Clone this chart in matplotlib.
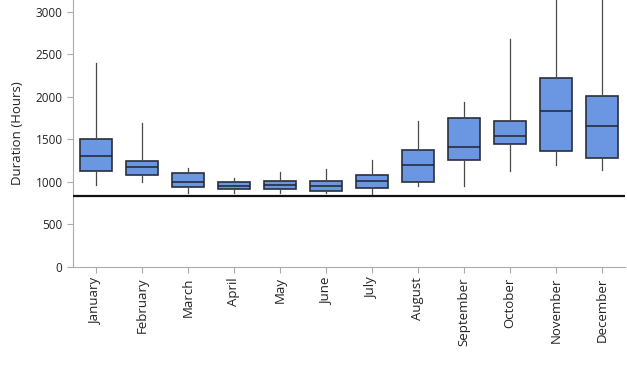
import matplotlib
matplotlib.use("Agg")
import matplotlib.pyplot as plt

# values (hours)
months = ["January", "February", "March", "April", "May", "June", "July",
          "August", "September", "October", "November", "December"]
whisker_lo = [970, 1000, 865, 865, 865, 865, 850, 955, 950, 1125, 1205, 1145]
q1 = [1130, 1078, 935, 915, 918, 895, 926, 1000, 1255, 1445, 1360, 1280]
median = [1310, 1172, 1002, 953, 968, 950, 1008, 1195, 1415, 1543, 1840, 1662]
q3 = [1500, 1246, 1100, 996, 1011, 1011, 1078, 1372, 1754, 1723, 2220, 2016]
whisker_hi = [2395, 1692, 1165, 1050, 1112, 1152, 1262, 1723, 1946, 2688, 3500, 3400]
threshold = 840

plt.rcParams["font.family"] = ["Open Sans", "DejaVu Sans"]
plt.rcParams["font.size"] = 8.5

fig = plt.figure(figsize=(6.27, 3.76), dpi=100)
ax = fig.add_axes([0.1164, 0.29, 0.88, 0.71])

stats = []
for i, m in enumerate(months):
    stats.append({"label": m, "whislo": whisker_lo[i], "q1": q1[i], "med": median[i],
                  "q3": q3[i], "whishi": whisker_hi[i], "fliers": []})

ax.bxp(stats, positions=range(len(months)), widths=0.7, patch_artist=True,
       showcaps=False, showfliers=False,
       boxprops=dict(facecolor="#6a96e2", edgecolor="#2a2f3a", linewidth=1.2),
       medianprops=dict(color="#1f2430", linewidth=1.1),
       whiskerprops=dict(color="#4a4a4a", linewidth=0.9))

ax.axhline(threshold, color="#111111", linewidth=1.6, zorder=5)

ax.set_xlim(-0.5, len(months) - 0.5)
ax.set_ylim(0, 3141)
ax.set_yticks([0, 500, 1000, 1500, 2000, 2500, 3000])
ax.set_xticks(range(len(months)))
ax.set_xticklabels(months, rotation=90, fontsize=9.5)
ax.set_ylabel("Duration (Hours)", color="#222222", fontsize=9.5, labelpad=8)

for s in ["top", "right"]:
    ax.spines[s].set_visible(False)
for s in ["left", "bottom"]:
    ax.spines[s].set_color("#aaaaaa")
ax.tick_params(colors="#aaaaaa", labelcolor="#222222", length=4)

fig.savefig("out.png", dpi=100)
